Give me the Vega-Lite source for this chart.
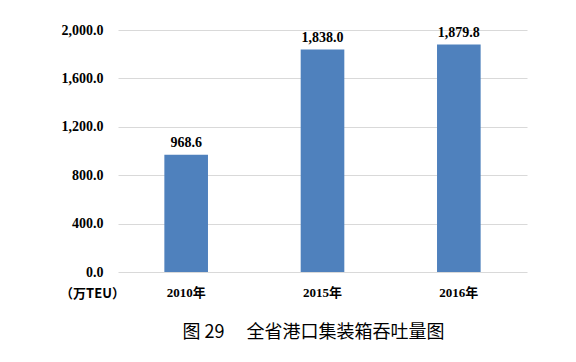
{
  "$schema": "https://vega.github.io/schema/vega-lite/v6.json",
  "width": 409,
  "height": 242,
  "autosize": {"type": "none"},
  "padding": {"left": 118, "top": 30, "right": 49, "bottom": 90},
  "background": "white",
  "data": {"values": [
    {"year": "2010年", "value": 968.6},
    {"year": "2015年", "value": 1838.0},
    {"year": "2016年", "value": 1879.8}
  ]},
  "title": {
    "text": "图 29　 全省港口集装箱吞吐量图",
    "orient": "bottom",
    "offset": 24,
    "dx": -9,
    "font": "Noto Sans CJK SC",
    "fontSize": 18,
    "fontWeight": "normal",
    "color": "#000000"
  },
  "encoding": {
    "x": {
      "field": "year", "type": "nominal", "sort": null,
      "scale": {"paddingInner": 0.68, "paddingOuter": 0.34},
      "axis": {"title": null, "labelAngle": 0, "domain": false, "ticks": false,
        "labelPadding": 14, "labelFont": "Liberation Serif, Noto Sans CJK SC", "labelFontWeight": "bold",
        "labelFontSize": 13, "labelColor": "#000000"}
    },
    "y": {
      "field": "value", "type": "quantitative",
      "scale": {"domain": [0, 2000]},
      "axis": {"values": [0, 400, 800, 1200, 1600, 2000], "format": ",.1f",
        "domain": false, "ticks": false, "labelPadding": 15,
        "labelFont": "Liberation Serif", "labelFontWeight": "bold", "labelFontSize": 14, "labelColor": "#000000",
        "gridColor": "#d9d9d9", "gridWidth": 1,
        "title": "（万TEU）", "titleAngle": 0, "titleX": -26, "titleY": 263, "titleAlign": "center", "titleBaseline": "middle",
        "titleFont": "Noto Sans CJK SC", "titleFontWeight": "bold", "titleFontSize": 13, "titleColor": "#000000"}
    }
  },
  "layer": [
    {"mark": {"type": "bar", "color": "#4f81bd"}},
    {"mark": {"type": "text", "dy": -12, "font": "Liberation Serif", "fontWeight": "bold", "fontSize": 14, "color": "#000000"},
     "encoding": {"text": {"field": "value", "type": "quantitative", "format": ",.1f"}}}
  ],
  "config": {"view": {"stroke": null}}
}
